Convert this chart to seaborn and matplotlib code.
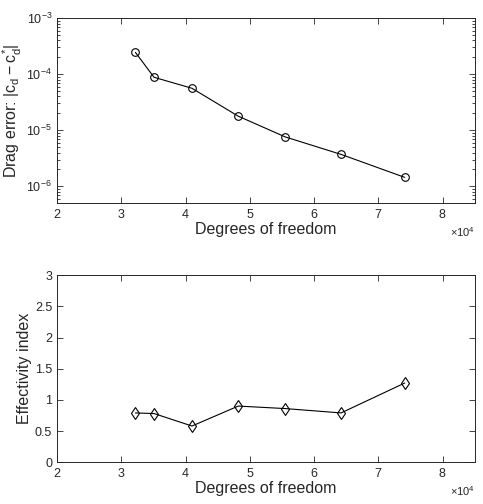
import numpy as np
import pandas as pd
import matplotlib
matplotlib.use("Agg")
import matplotlib.pyplot as plt
import matplotlib.ticker as mticker
import seaborn as sns

# data
dof = [32200, 35100, 41000, 48200, 55500, 64200, 74100]
drag_err = [2.45e-4, 8.8e-5, 5.6e-5, 1.78e-5, 7.6e-6, 3.7e-6, 1.44e-6]
eff_index = [0.79, 0.78, 0.58, 0.90, 0.86, 0.79, 1.27]

df = pd.DataFrame({"dof": dof, "err": drag_err, "eff": eff_index})

sns.set_style("ticks")
plt.rcParams["font.family"] = ["Liberation Sans", "DejaVu Sans"]
plt.rcParams["mathtext.fontset"] = "custom"
plt.rcParams["mathtext.rm"] = "Liberation Sans"
plt.rcParams["mathtext.it"] = "Liberation Sans"

fig = plt.figure(figsize=(4.83, 5.04), dpi=100)
ax1 = fig.add_axes([0.118, 0.597, 0.865, 0.367])
ax2 = fig.add_axes([0.118, 0.083, 0.865, 0.371])

#----------top: drag error----------
sns.lineplot(x="dof", y="err", data=df, ax=ax1, color="black", lw=0.8,
             marker="o", markersize=5.5, markerfacecolor="none",
             markeredgecolor="black", markeredgewidth=0.8)
ax1.set_yscale("log")
ax1.set_ylim(5e-7, 1e-3)
ax1.set_ylabel(r"Drag error: $|c_d - c_d^{*}|$", fontsize=11.5, labelpad=2)

#----------bottom: effectivity index----------
sns.lineplot(x="dof", y="eff", data=df, ax=ax2, color="black", lw=0.8,
             marker="d", markersize=6, markerfacecolor="none",
             markeredgecolor="black", markeredgewidth=0.8)
ax2.set_ylim(0, 3)
ax2.set_yticks([0, 0.5, 1, 1.5, 2, 2.5, 3])
ax2.set_yticklabels(["0", "0.5", "1", "1.5", "2", "2.5", "3"])
ax2.set_ylabel("Effectivity index", fontsize=11.5, labelpad=2)

for ax in (ax1, ax2):
    ax.set_xlim(20000, 85000)
    ax.set_xticks([20000, 30000, 40000, 50000, 60000, 70000, 80000])
    fmt = mticker.ScalarFormatter(useMathText=True)
    fmt.set_powerlimits((0, 0))
    ax.xaxis.set_major_formatter(fmt)
    ax.xaxis.get_offset_text().set_fontsize(8)
    ax.set_xlabel("Degrees of freedom", fontsize=11.5, labelpad=1)
    ax.tick_params(which="both", direction="in", top=True, right=True,
                   labelsize=9, width=0.6)
    ax.tick_params(which="major", length=4)
    ax.tick_params(which="minor", length=2)
    for s in ax.spines.values():
        s.set_linewidth(0.7)

plt.savefig("out.png", dpi=100)
